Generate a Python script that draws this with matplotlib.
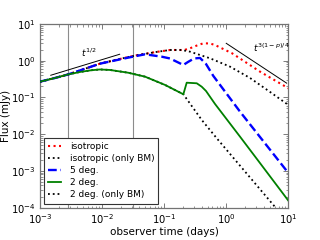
import matplotlib
matplotlib.use("Agg")
import matplotlib.pyplot as plt
from matplotlib.ticker import LogLocator, NullFormatter

# ---- data (observer time in days, flux in mJy) ----
t_iso_bm = [0.001, 0.001746, 0.002825, 0.009268, 0.02618, 0.03837, 0.07962, 0.1242,
            0.1919, 0.2612, 0.5483, 1.151, 2.415, 5.082, 10.0]
f_iso_bm = [0.269, 0.339, 0.422, 0.832, 1.259, 1.432, 1.762, 1.959,
            1.959, 1.762, 1.164, 0.689, 0.339, 0.141, 0.0624]

t_iso = [0.001, 0.001746, 0.002825, 0.009268, 0.02618, 0.03837, 0.07962, 0.1242,
         0.1919, 0.2089, 0.2612, 0.338, 0.4276, 0.5483, 0.6592, 1.239, 3.499, 10.0]
f_iso = [0.269, 0.339, 0.422, 0.832, 1.259, 1.432, 1.762, 1.959,
         1.959, 1.950, 2.183, 2.600, 2.985, 2.944, 2.679, 1.596, 0.504, 0.178]

t_5deg = [0.001, 0.001746, 0.002825, 0.009268, 0.02618, 0.0492, 0.09141, 0.1242,
          0.2037, 0.2421, 0.3027, 0.3784, 0.4721, 0.6194, 1.667, 10.0]
f_5deg = [0.269, 0.339, 0.422, 0.832, 1.211, 1.496, 1.288, 1.151,
          0.766, 0.925, 1.151, 1.189, 0.815, 0.385, 0.0410, 0.000881]

t_2deg = [0.001, 0.001746, 0.002825, 0.004406, 0.0067, 0.009268, 0.01343, 0.02618,
          0.0492, 0.1033, 0.2037, 0.2307, 0.335, 0.4027, 0.4721, 0.6592, 1.667,
          3.499, 10.0]
f_2deg = [0.269, 0.339, 0.422, 0.494, 0.550, 0.578, 0.560, 0.472,
          0.368, 0.219, 0.122, 0.252, 0.243, 0.196, 0.150, 0.0665, 0.00855,
          0.00163, 0.000155]

t_2deg_bm = [0.001, 0.001746, 0.002825, 0.004406, 0.0067, 0.009268, 0.01343, 0.02618,
             0.0492, 0.1033, 0.2037, 0.4027, 0.7027, 5.741, 10.0]
f_2deg_bm = [0.269, 0.339, 0.422, 0.494, 0.550, 0.578, 0.560, 0.472,
             0.368, 0.219, 0.122, 0.0244, 0.00774, 0.000118, 0.0000372]

# reference power-law segments
t_ref1 = [0.00149, 0.0192]
f_ref1 = [0.402, 1.50]
t_ref2 = [1.0, 9.4]
f_ref2 = [2.98, 0.245]

vlines_t = [0.0028, 0.032]

labels = ["isotropic", "isotropic (only BM)", "5 deg.", "2 deg.", "2 deg. (only BM)"]

# ---- figure ----
fig = plt.figure(figsize=(3.2, 2.4), dpi=100)
ax = fig.add_axes([0.125, 0.135, 0.776, 0.765])

for vt in vlines_t:
    ax.axvline(vt, color="0.55", lw=0.8, zorder=1)

ax.plot(t_ref1, f_ref1, color="k", lw=0.7, zorder=2)
ax.plot(t_ref2, f_ref2, color="k", lw=0.7, zorder=2)

ax.plot(t_iso, f_iso, color="red", ls=":", lw=1.5, label=labels[0], zorder=3)
ax.plot(t_iso_bm, f_iso_bm, color="k", ls=":", lw=1.3, label=labels[1], zorder=4)
ax.plot(t_5deg, f_5deg, color="blue", ls="--", lw=1.7, label=labels[2], zorder=5)
ax.plot(t_2deg, f_2deg, color="green", ls="-", lw=1.3, label=labels[3], zorder=5)
ax.plot(t_2deg_bm, f_2deg_bm, color="k", ls=":", lw=1.3, label=labels[4], zorder=4)

ax.text(0.0062, 1.62, r"$t^{1/2}$", fontsize=6.5, ha="center", va="center")
ax.text(5.3, 2.2, r"$t^{3(1-p)/4}$", fontsize=6.5, ha="center", va="center")

ax.set_xscale("log")
ax.set_yscale("log")
ax.set_xlim(1e-3, 1e1)
ax.set_ylim(1e-4, 1e1)

ax.xaxis.set_major_locator(LogLocator(base=10, numticks=10))
ax.yaxis.set_major_locator(LogLocator(base=10, numticks=10))
ax.xaxis.set_minor_locator(LogLocator(base=10, subs=range(2, 10), numticks=50))
ax.yaxis.set_minor_locator(LogLocator(base=10, subs=range(2, 10), numticks=50))
ax.xaxis.set_minor_formatter(NullFormatter())
ax.yaxis.set_minor_formatter(NullFormatter())

ax.tick_params(which="both", direction="in", top=True, right=True, color="0.4",
               labelsize=7.2)
ax.tick_params(which="major", length=3.5, width=0.6, pad=3)
ax.tick_params(which="minor", length=1.8, width=0.5)
for s in ax.spines.values():
    s.set_color("0.45")
    s.set_linewidth(0.9)

ax.set_xlabel("observer time (days)", fontsize=7.5, labelpad=1)
ax.set_ylabel("Flux (mJy)", fontsize=7.5)
ax.yaxis.set_label_coords(-0.118, 0.5)

leg = ax.legend(loc="lower left", fontsize=6.5, handlelength=1.4, handletextpad=1.0,
                labelspacing=0.35, borderpad=0.45, fancybox=False, framealpha=1,
                borderaxespad=0.45)
leg.get_frame().set_edgecolor("0.2")
leg.get_frame().set_linewidth(0.8)

fig.savefig("out.png", dpi=100)
